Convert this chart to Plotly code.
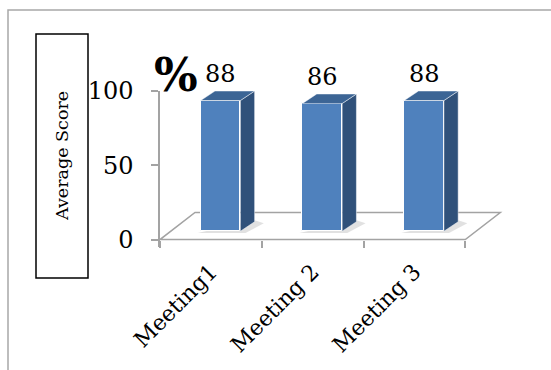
import plotly.graph_objects as go

# ---- data -------------------------------------------------------------
categories = ["Meeting1", "Meeting 2", "Meeting 3"]
scores = [88, 86, 88]
y_tick_values = [0, 50, 100]
y_title = "Average Score"
unit_mark = "%"

# ---- page / plot-area geometry ---------------------------------------
FIG_W, FIG_H = 551, 370
M_L, M_R, M_T, M_B = 160, 45, 91, 123
X_RANGE = [-0.5, 2.9]
Y_RANGE = [-5, 100]
PLOT_W = FIG_W - M_L - M_R
PLOT_H = FIG_H - M_T - M_B

# pseudo-3D geometry, in data units
FLOOR_DX, FLOOR_DY = 0.344, 18.2      # depth of the floor
BAR_OFF = -0.10                       # front face left edge relative to category
BAR_W = 0.39                          # front face width
BAR_BASE = 5.6                        # front face sits part-way into the floor
DEPTH_DX, DEPTH_DY = 0.14, 6.4        # depth of each bar

FRONT = "#4F81BD"
SIDE = "#30517A"
TOP = "#3C6595"
AXIS = "#A3A3A3"
FONT = "DejaVu Serif"


def px_x(px):
    """figure pixel column -> paper x"""
    return (px - M_L) / PLOT_W


def px_y(py):
    """figure pixel row -> paper y"""
    return (FIG_H - M_B - py) / PLOT_H


fig = go.Figure()

# front faces of the bars
fig.add_trace(go.Bar(
    x=[i + BAR_OFF + BAR_W / 2 for i in range(len(scores))],
    y=scores,
    base=BAR_BASE,
    width=BAR_W,
    marker=dict(color=FRONT, line=dict(color="white", width=1)),
    hoverinfo="skip",
    showlegend=False,
))

# side and top faces of the bars
for i, v in enumerate(scores):
    xl = i + BAR_OFF
    xr = xl + BAR_W
    y0 = BAR_BASE
    y1 = BAR_BASE + v
    fig.add_trace(go.Scatter(
        x=[xr, xr + DEPTH_DX, xr + DEPTH_DX, xr, xr],
        y=[y0, y0 + DEPTH_DY, y1 + DEPTH_DY, y1, y0],
        mode="lines", fill="toself", fillcolor=SIDE,
        line=dict(color="rgba(255,255,255,0.6)", width=0.8),
        hoverinfo="skip", showlegend=False,
    ))
    fig.add_trace(go.Scatter(
        x=[xl, xr, xr + DEPTH_DX, xl + DEPTH_DX, xl],
        y=[y1, y1, y1 + DEPTH_DY, y1 + DEPTH_DY, y1],
        mode="lines", fill="toself", fillcolor=TOP,
        line=dict(color="rgba(255,255,255,0.6)", width=0.8),
        hoverinfo="skip", showlegend=False,
    ))

shapes = []
# floor outline, behind the bars
n = len(categories)
fx0, fx1 = -0.5, n - 0.5
shapes.append(dict(
    type="path", xref="x", yref="y", layer="below",
    path=(f"M {fx0},0 L {fx1},0 L {fx1 + FLOOR_DX},{FLOOR_DY} "
          f"L {fx0 + FLOOR_DX},{FLOOR_DY} Z"),
    line=dict(color=AXIS, width=1.5), fillcolor="white",
))
# soft shadows at the foot of each bar
for i in range(n):
    xl = i + BAR_OFF
    xr = xl + BAR_W
    shapes.append(dict(
        type="path", xref="x", yref="y", layer="below",
        path=(f"M {xl - 0.03},{BAR_BASE - 1.2} L {xr + 0.05},{BAR_BASE - 1.2} "
              f"L {xr + DEPTH_DX + 0.09},{BAR_BASE + DEPTH_DY - 1.0} "
              f"L {xr + DEPTH_DX},{BAR_BASE + DEPTH_DY + 1} Z"),
        line=dict(width=0), fillcolor="rgba(200,200,200,0.55)",
    ))
# title box at the left
shapes.append(dict(
    type="rect", xref="paper", yref="paper",
    x0=px_x(36), x1=px_x(88), y0=px_y(278), y1=px_y(34),
    line=dict(color="black", width=1.5), fillcolor="white",
))
# outer frame
shapes.append(dict(
    type="rect", xref="paper", yref="paper",
    x0=px_x(8), x1=px_x(FIG_W + 20), y0=px_y(FIG_H + 20), y1=px_y(10),
    line=dict(color="#A8A8A8", width=1.5), fillcolor="rgba(0,0,0,0)",
    layer="below",
))

annotations = []
for i, v in enumerate(scores):
    annotations.append(dict(
        x=i + BAR_OFF + BAR_W / 2, y=BAR_BASE + v + DEPTH_DY,
        xref="x", yref="y", text=str(v), showarrow=False,
        yanchor="bottom", xanchor="center", yshift=1,
        font=dict(family=FONT, size=24, color="black"),
    ))
annotations.append(dict(
    x=px_x(176), y=px_y(75), xref="paper", yref="paper",
    text=f"<b>{unit_mark}</b>", showarrow=False,
    xanchor="center", yanchor="middle",
    font=dict(family=FONT, size=46, color="black"),
))
annotations.append(dict(
    x=px_x(62), y=px_y(156), xref="paper", yref="paper",
    text=y_title, showarrow=False, textangle=-90,
    xanchor="center", yanchor="middle",
    font=dict(family=FONT, size=17.5, color="black"),
))

zero_pos = (0 - Y_RANGE[0]) / (Y_RANGE[1] - Y_RANGE[0])

fig.update_layout(
    width=FIG_W, height=FIG_H,
    margin=dict(l=M_L, r=M_R, t=M_T, b=M_B, pad=0),
    paper_bgcolor="white", plot_bgcolor="rgba(0,0,0,0)",
    font=dict(family=FONT, color="black"),
    showlegend=False,
    bargap=0,
    shapes=shapes,
    annotations=annotations,
    xaxis=dict(
        range=X_RANGE, anchor="free", position=zero_pos,
        showline=False, showgrid=False, zeroline=False,
        tickmode="array", tickvals=list(range(n)), ticktext=categories,
        ticks="", tickangle=-45, ticklabelstandoff=14,
        tickfont=dict(family=FONT, size=22, color="black"),
        minor=dict(tickmode="array", tickvals=[k - 0.5 for k in range(n + 1)],
                   ticks="outside", ticklen=7, tickwidth=1.5, tickcolor=AXIS,
                   showgrid=False),
        fixedrange=True,
    ),
    yaxis=dict(
        range=Y_RANGE, showline=True, linecolor=AXIS, linewidth=1.5,
        showgrid=False, zeroline=False,
        tickmode="array", tickvals=y_tick_values,
        ticks="outside", ticklen=7, tickwidth=1.5, tickcolor=AXIS,
        ticklabelstandoff=13,
        tickfont=dict(family=FONT, size=24, color="black"),
        fixedrange=True,
    ),
)

fig.write_html("out.html")
